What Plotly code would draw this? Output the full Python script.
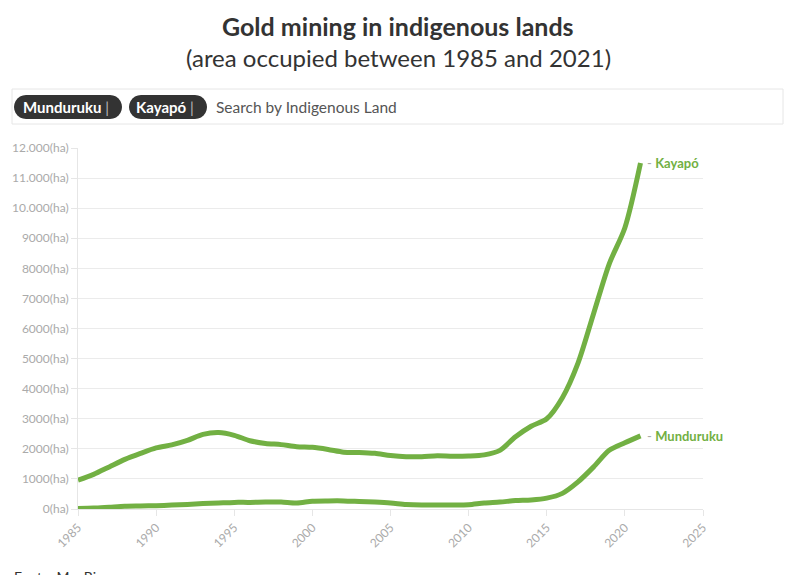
import plotly.graph_objects as go
import math

years = list(range(1985, 2022))
kayapo = [960, 1150, 1400, 1650, 1850, 2030, 2130, 2280, 2480, 2540, 2450, 2270, 2180, 2140, 2070,
          2050, 1980, 1890, 1880, 1850, 1780, 1740, 1740, 1770, 1750, 1760, 1800, 1950, 2400, 2750,
          3000, 3700, 4850, 6500, 8150, 9350, 11500]
munduruku = [20, 30, 60, 90, 100, 110, 130, 150, 180, 200, 220, 220, 230, 230, 200,
             260, 270, 270, 250, 230, 200, 150, 130, 130, 130, 140, 200, 230, 280, 300,
             360, 520, 900, 1400, 1950, 2200, 2430]
series_names = ["Munduruku", "Kayapó"]
ytick_vals = list(range(0, 12001, 1000))
ytick_text = ["0(ha)", "1000(ha)", "2000(ha)", "3000(ha)", "4000(ha)", "5000(ha)", "6000(ha)",
              "7000(ha)", "8000(ha)", "9000(ha)", "10.000(ha)", "11.000(ha)", "12.000(ha)"]
xtick_vals = list(range(1985, 2026, 5))

GREEN = "#72b043"
FONT = "Source Sans Pro, Lato, sans-serif"
W, H = 796, 575
L, R, T, B = 78, 703, 148, 509


def px(x):
    return (x - L) / (R - L)


def py(y):
    return (B - y) / (B - T)


fig = go.Figure()
fig.add_trace(go.Scatter(x=years, y=kayapo, mode="lines", name="Kayapó",
                         line=dict(color=GREEN, width=5, shape="spline", smoothing=0.8),
                         hoverinfo="skip"))
fig.add_trace(go.Scatter(x=years, y=munduruku, mode="lines", name="Munduruku",
                         line=dict(color=GREEN, width=5, shape="spline", smoothing=0.8),
                         hoverinfo="skip"))

shapes = []
shapes.append(dict(type="rect", xref="paper", yref="paper", x0=px(12), x1=px(783), y0=py(124), y1=py(89),
                   line=dict(color="#e6e6e6", width=1), fillcolor="white", layer="above"))


def pill(x0, x1, y0, y1):
    r = (y1 - y0) / 2
    pts = []
    for i in range(0, 13):
        a = math.pi / 2 + math.pi * i / 12
        pts.append((x0 + r + r * math.cos(a), y0 + r - r * math.sin(a)))
    for i in range(0, 13):
        a = -math.pi / 2 + math.pi * i / 12
        pts.append((x1 - r + r * math.cos(a), y0 + r - r * math.sin(a)))
    d = "M " + " L ".join(f"{px(a):.5f},{py(b):.5f}" for a, b in pts) + " Z"
    return dict(type="path", xref="paper", yref="paper", path=d, fillcolor="#333333",
                line=dict(width=0), layer="above")


shapes.append(pill(14, 122, 95, 119))
shapes.append(pill(129, 207, 95, 119))

annotations = []
annotations.append(dict(xref="paper", yref="paper", x=px(21), y=py(107), xanchor="left", yanchor="middle",
                        text="<b>Munduruku</b> <span style='color:#bbb'>|</span>", showarrow=False,
                        font=dict(family=FONT, size=15, color="white")))
annotations.append(dict(xref="paper", yref="paper", x=px(134), y=py(107), xanchor="left", yanchor="middle",
                        text="<b>Kayapó</b> <span style='color:#bbb'>|</span>", showarrow=False,
                        font=dict(family=FONT, size=15, color="white")))
annotations.append(dict(xref="paper", yref="paper", x=px(214), y=py(107), xanchor="left", yanchor="middle",
                        text="Search by Indigenous Land", showarrow=False,
                        font=dict(family=FONT, size=15.5, color="#555555")))
annotations.append(dict(xref="paper", yref="paper", x=px(398), y=py(26), xanchor="center", yanchor="middle",
                        text="<b>Gold mining in indigenous lands</b>", showarrow=False,
                        font=dict(family=FONT, size=25, color="#333333")))
annotations.append(dict(xref="paper", yref="paper", x=px(398), y=py(58), xanchor="center", yanchor="middle",
                        text="(area occupied between 1985 and 2021)", showarrow=False,
                        font=dict(family=FONT, size=24, color="#333333")))
for name, vals in [("Kayapó", kayapo), ("Munduruku", munduruku)]:
    annotations.append(dict(x=years[-1], y=vals[-1], xref="x", yref="y", xanchor="left", yanchor="middle",
                            xshift=4, text=f"<span style='color:#aaa'>-</span> <b>{name}</b>",
                            showarrow=False, font=dict(family=FONT, size=13, color=GREEN)))
annotations.append(dict(xref="paper", yref="paper", x=px(12), y=py(566), xanchor="left", yanchor="top",
                        text="Fonte: MapBiomas", showarrow=False,
                        font=dict(family=FONT, size=14, color="#333333")))

fig.update_layout(
    width=W, height=H,
    margin=dict(l=L, r=W - R, t=T, b=H - B, autoexpand=False),
    paper_bgcolor="white", plot_bgcolor="white",
    showlegend=False,
    shapes=shapes, annotations=annotations,
    font=dict(family=FONT),
    xaxis=dict(range=[1985, 2025], tickvals=xtick_vals, tickangle=-45, showgrid=False,
               ticks="outside", ticklen=6, tickcolor="#e6e6e6", automargin=False,
               showline=True, linecolor="#e6e6e6", linewidth=1,
               tickfont=dict(family=FONT, size=12, color="#aaaaaa"), zeroline=False, fixedrange=True),
    yaxis=dict(range=[0, 12000], tickvals=ytick_vals, ticktext=ytick_text, showgrid=True,
               gridcolor="#ebebeb", gridwidth=1, ticks="outside", ticklen=6, tickcolor="#e6e6e6",
               showline=True, linecolor="#e6e6e6", linewidth=1, zeroline=False, automargin=False,
               tickfont=dict(family=FONT, size=12, color="#aaaaaa"), fixedrange=True),
)

fig.write_html("out.html", config={"displayModeBar": False},
               post_script="document.body.style.margin='0';document.body.style.overflow='hidden';")
